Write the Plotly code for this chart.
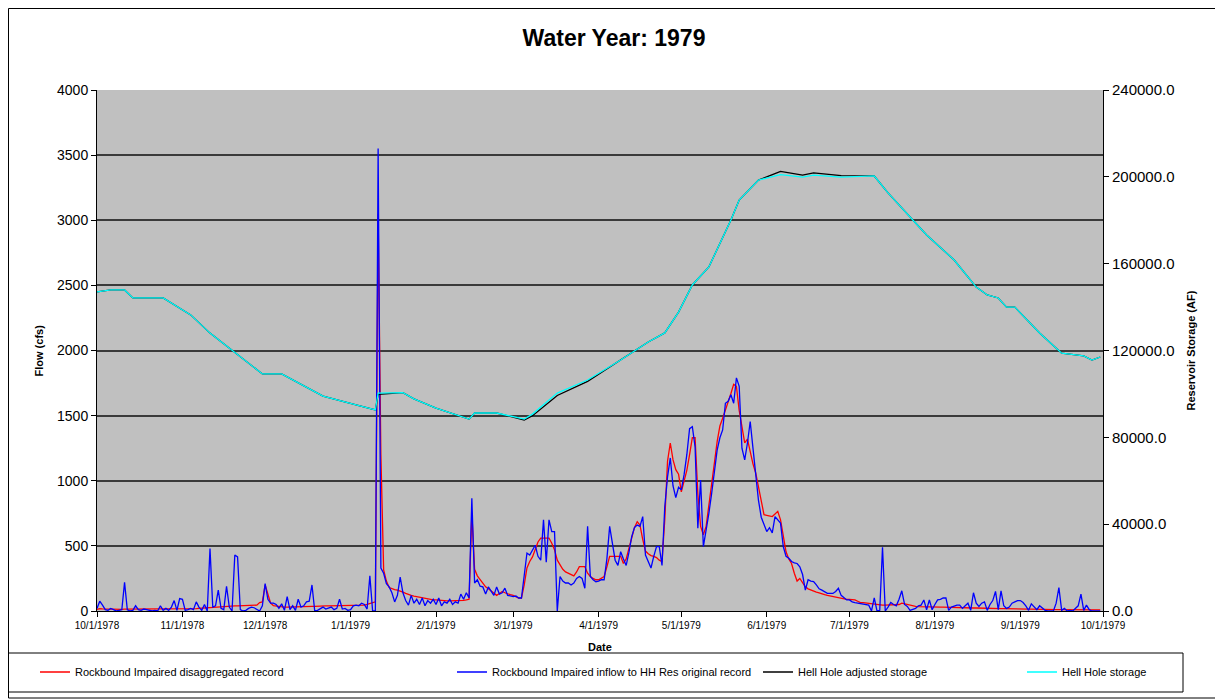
import pandas as pd
import plotly.graph_objects as go
from plotly.subplots import make_subplots

# daily flow (cfs), Rockbound Impaired inflow to HH Res - original record
blue_oct = [20, 75, 45, 10, 5, 20, 10, 0, 5, 10, 220, 10, 0, 5, 40, 10, 5, 15, 10, 5, 0, 5, 0, 40, 5, 20, 5, 30, 80, 5, 95]
blue_nov = [90, 5, 10, 20, 10, 70, 30, 5, 50, 0, 480, 30, 40, 160, 20, 10, 190, 30, 0, 430, 415, 10, 0, 5, 20, 30, 25, 10, 0, 40]
blue_dec = [210, 90, 60, 60, 50, 20, 55, 5, 110, 10, 40, 5, 90, 30, 40, 70, 75, 200, 0, 5, 20, 30, 15, 20, 30, 10, 20, 90, 15, 20, 5]
blue_jan = [10, 40, 45, 40, 60, 50, 15, 270, 0, 0, 3550, 330, 290, 210, 185, 140, 70, 120, 260, 140, 80, 45, 120, 60, 90, 50, 100, 40, 80, 60, 90]
blue_feb = [50, 100, 40, 70, 60, 90, 50, 70, 60, 130, 90, 140, 100, 865, 215, 240, 190, 185, 130, 185, 150, 120, 185, 130, 140, 175, 120, 115]
blue_mar = [110, 115, 100, 100, 300, 445, 430, 470, 505, 420, 390, 700, 375, 700, 610, 610, 0, 265, 230, 215, 215, 200, 215, 250, 265, 250, 175, 650, 265, 240, 225]
blue_apr = [230, 240, 240, 400, 650, 500, 390, 350, 455, 400, 350, 450, 570, 640, 660, 650, 725, 430, 380, 330, 420, 495, 495, 350, 800, 1030, 1175, 960, 870, 950]
blue_may = [930, 1045, 1200, 1400, 1415, 1260, 635, 1005, 495, 610, 750, 900, 1050, 1235, 1330, 1390, 1595, 1610, 1660, 1595, 1790, 1725, 1250, 1160, 1290, 1455, 1250, 1045, 850, 720, 660]
blue_jun = [610, 640, 600, 725, 700, 675, 495, 420, 405, 380, 370, 365, 340, 280, 160, 240, 230, 225, 200, 170, 160, 145, 135, 135, 135, 150, 175, 120, 100, 85]
blue_jul = [85, 70, 65, 60, 55, 50, 45, 45, 0, 100, 0, 5, 490, 0, 30, 65, 50, 40, 90, 155, 50, 35, 5, 10, 20, 40, 45, 85, 10, 85, 10]
blue_aug = [50, 85, 90, 100, 100, 5, 30, 40, 45, 45, 20, 40, 60, 5, 140, 60, 35, 60, 70, 5, 50, 80, 150, 10, 155, 40, 20, 30, 60, 70, 80]
blue_sep = [80, 65, 40, 5, 55, 30, 10, 40, 20, 5, 0, 0, 0, 60, 180, 5, 20, 0, 5, 0, 20, 40, 130, 5, 45, 10, 0, 0, 0, 0]

# daily flow (cfs), Rockbound Impaired disaggregated record
red_oct = [12, 18, 16, 15, 14, 14, 13, 13, 13, 13, 15, 15, 14, 14, 14, 14, 14, 13, 13, 13, 13, 13, 13, 13, 13, 13, 13, 13, 14, 14, 15]
red_nov = [15, 15, 16, 17, 18, 18, 20, 20, 22, 25, 26, 28, 30, 30, 32, 34, 36, 38, 40, 40, 40, 40, 40, 40, 40, 40, 42, 45, 65, 70]
red_dec = [200, 120, 60, 42, 38, 35, 32, 30, 30, 30, 30, 30, 30, 30, 32, 34, 35, 35, 36, 38, 40, 40, 40, 40, 40, 40, 40, 40, 40, 40, 40]
red_jan = [40, 40, 40, 45, 45, 45, 50, 55, 65, 70, 3050, 1200, 315, 230, 180, 170, 165, 160, 155, 145, 135, 125, 120, 115, 110, 105, 100, 95, 90, 88, 85]
red_feb = [85, 82, 80, 78, 77, 77, 77, 77, 78, 80, 82, 85, 90, 750, 320, 270, 240, 210, 185, 170, 155, 140, 120, 135, 150, 140, 130, 125]
red_mar = [120, 110, 100, 100, 200, 330, 380, 415, 470, 530, 560, 560, 560, 560, 520, 470, 390, 350, 320, 300, 290, 275, 270, 300, 340, 340, 340, 290, 265, 250, 240]
red_apr = [240, 250, 265, 340, 420, 420, 420, 420, 420, 365, 400, 480, 570, 640, 685, 660, 550, 460, 440, 425, 420, 410, 390, 380, 700, 1150, 1290, 1160, 1085, 1050]
red_may = [915, 1000, 1080, 1200, 1330, 1330, 900, 650, 585, 650, 825, 1000, 1135, 1300, 1420, 1480, 1540, 1610, 1670, 1740, 1725, 1540, 1415, 1290, 1320, 1220, 1130, 1060, 950, 850, 740]
red_jun = [735, 730, 725, 745, 765, 700, 560, 455, 400, 365, 290, 230, 250, 215, 185, 170, 160, 150, 145, 140, 130, 125, 120, 115, 110, 105, 100, 97, 95, 90]
red_jul = [90, 90, 85, 75, 65, 65, 62, 58, 55, 50, 48, 46, 45, 45, 45, 45, 45, 45, 50, 60, 55, 45, 40, 38, 35, 33, 32, 30, 30, 30, 30]
red_aug = [30, 30, 29, 29, 28, 28, 27, 27, 26, 26, 25, 25, 24, 24, 23, 23, 22, 22, 22, 21, 21, 20, 20, 20, 19, 19, 18, 18, 18, 17, 17]
red_sep = [16, 16, 15, 15, 15, 14, 14, 14, 13, 13, 12, 12, 12, 11, 11, 11, 10, 10, 10, 10, 9, 9, 9, 9, 8, 8, 8, 8, 8, 8]

# reservoir storage (AF)
storage_dates = ["1978-10-01", "1978-10-06", "1978-10-11", "1978-10-14", "1978-10-25", "1978-11-04",
                 "1978-11-11", "1978-11-18", "1978-11-30", "1978-12-07", "1978-12-22", "1979-01-03",
                 "1979-01-10", "1979-01-11", "1979-01-20", "1979-01-24", "1979-02-01", "1979-02-13",
                 "1979-02-15", "1979-02-23", "1979-03-05", "1979-03-08", "1979-03-17", "1979-03-28",
                 "1979-04-09", "1979-04-19", "1979-04-25", "1979-04-30", "1979-05-05", "1979-05-11",
                 "1979-05-19", "1979-05-22", "1979-05-29", "1979-06-06", "1979-06-14", "1979-06-18",
                 "1979-06-28", "1979-07-10", "1979-07-15", "1979-07-24", "1979-07-29", "1979-08-08",
                 "1979-08-16", "1979-08-20", "1979-08-24", "1979-08-27", "1979-08-30", "1979-09-08",
                 "1979-09-16", "1979-09-24", "1979-09-27", "1979-09-30"]
storage = [147000, 147900, 147900, 144200, 144200, 136400, 128000, 121200, 109200, 109200, 99000, 94900,
           92600, 100400, 100600, 97700, 93500, 88400, 91200, 91200, 88400, 90700, 100400, 106400,
           115600, 123900, 128100, 137700, 150200, 158500, 180100, 189300, 198500, 201000, 199900, 200800,
           199900, 200400, 192600, 180100, 173200, 161700, 149200, 145600, 144200, 140000, 140000, 128100,
           118800, 117500, 115600, 117000]
adjusted_storage = [147000, 147900, 147900, 144200, 144200, 136400, 128000, 121200, 109200, 109200, 99000, 94900,
                    92600, 99800, 100600, 97700, 93500, 88400, 91200, 91200, 88000, 90000, 99300, 105800,
                    115600, 123900, 128100, 137700, 150200, 158500, 180100, 189300, 198500, 202500, 200800, 201800,
                    200600, 200400, 192600, 180100, 173200, 161700, 149200, 145600, 144200, 140000, 140000, 128100,
                    118800, 117500, 115600, 117000]

month_ticks = ["1978-10-01", "1978-11-01", "1978-12-01", "1979-01-01", "1979-02-01", "1979-03-01",
               "1979-04-01", "1979-05-01", "1979-06-01", "1979-07-01", "1979-08-01", "1979-09-01", "1979-10-01"]
month_labels = ["10/1/1978", "11/1/1978", "12/1/1978", "1/1/1979", "2/1/1979", "3/1/1979",
                "4/1/1979", "5/1/1979", "6/1/1979", "7/1/1979", "8/1/1979", "9/1/1979", "10/1/1979"]

blue = blue_oct + blue_nov + blue_dec + blue_jan + blue_feb + blue_mar + blue_apr + blue_may + blue_jun + blue_jul + blue_aug + blue_sep
red = red_oct + red_nov + red_dec + red_jan + red_feb + red_mar + red_apr + red_may + red_jun + red_jul + red_aug + red_sep
blue_days = pd.date_range("1978-10-01", periods=len(blue), freq="D")
red_days = pd.date_range("1978-10-01", periods=len(red), freq="D")

FONT = "Arial, Liberation Sans, sans-serif"

fig = make_subplots(specs=[[{"secondary_y": True}]])

fig.add_trace(go.Scatter(x=red_days, y=red, mode="lines", name="Rockbound Impaired disaggregated record",
                         line=dict(color="#ff0000", width=1.3), legend="legend"), secondary_y=False)
fig.add_trace(go.Scatter(x=blue_days, y=blue, mode="lines", name="Rockbound Impaired inflow to HH Res original record",
                         line=dict(color="#0000ff", width=1.3), legend="legend2"), secondary_y=False)
fig.add_trace(go.Scatter(x=pd.to_datetime(storage_dates), y=adjusted_storage, mode="lines", name="Hell Hole adjusted storage",
                         line=dict(color="#000000", width=1.3), legend="legend3"), secondary_y=True)
fig.add_trace(go.Scatter(x=pd.to_datetime(storage_dates), y=storage, mode="lines", name="Hell Hole storage",
                         line=dict(color="#00ffff", width=1.3), legend="legend4"), secondary_y=True)

# the page body adds an 8px offset, so the figure is laid out 8px smaller
# screen pixel -> paper helpers (plot area on screen 97..1103 x 90..611)
def px(x):
    return (x - 97) / 1006

def py(y):
    return (611 - y) / 521

leg = dict(orientation="h", yanchor="middle", y=py(672), xanchor="left", bgcolor="rgba(0,0,0,0)",
           font=dict(family=FONT, size=11, color="#000"), borderwidth=0)

fig.update_layout(
    width=1215, height=692,
    showlegend=True,
    paper_bgcolor="white", plot_bgcolor="#c0c0c0",
    margin=dict(l=89, r=120, t=82, b=89, autoexpand=False),
    font=dict(family=FONT, color="#000"),
    title=dict(text="<b>Water Year: 1979</b>", x=px(614), xref="paper", xanchor="center",
               y=1 - 30 / 692, yref="container", yanchor="middle",
               font=dict(family=FONT, size=23, color="#000")),
    legend=dict(leg, x=px(35)),
    legend2=dict(leg, x=px(452)),
    legend3=dict(leg, x=px(758)),
    legend4=dict(leg, x=px(1022)),
    shapes=[
        dict(type="rect", xref="paper", yref="paper", x0=px(8), x1=px(1183), y0=py(692), y1=py(653),
             line=dict(color="#000", width=1)),
        dict(type="rect", xref="paper", yref="paper", x0=px(8.5), x1=px(1221), y0=py(698), y1=py(8.5),
             line=dict(color="#000", width=1)),
    ],
    annotations=[
        dict(text="<b>Flow (cfs)</b>", xref="paper", yref="paper", x=px(38), y=0.5, textangle=-90,
             xanchor="center", yanchor="middle", showarrow=False, font=dict(family=FONT, size=11)),
        dict(text="<b>Reservoir Storage (AF)</b>", xref="paper", yref="paper", x=px(1190), y=0.5, textangle=-90,
             xanchor="center", yanchor="middle", showarrow=False, font=dict(family=FONT, size=11)),
        dict(text="<b>Date</b>", xref="paper", yref="paper", x=px(600), y=py(647), showarrow=False,
             xanchor="center", yanchor="middle", font=dict(family=FONT, size=11)),
    ],
)

fig.update_xaxes(
    type="date", range=["1978-10-01", "1979-10-01"], domain=[0, 1],
    tickvals=month_ticks, ticktext=month_labels, tickangle=0,
    ticks="outside", ticklen=5, tickcolor="#000", showline=True, linecolor="#000", linewidth=1,
    showgrid=False, zeroline=False, tickfont=dict(family=FONT, size=10),
)
fig.update_yaxes(
    range=[0, 4000], dtick=500, tickformat="d", ticks="outside", ticklen=5, tickcolor="#000",
    showline=True, linecolor="#000", linewidth=1, showgrid=True, gridcolor="#3a3a3a", gridwidth=1.5,
    zeroline=False, tickfont=dict(family=FONT, size=14), secondary_y=False,
)
fig.update_yaxes(
    range=[0, 240000], dtick=40000, tickformat=".1f", ticks="outside", ticklen=5, tickcolor="#000",
    showline=True, linecolor="#000", linewidth=1, showgrid=False, zeroline=False,
    tickfont=dict(family=FONT, size=15), secondary_y=True,
)

fig.write_html("out.html")
